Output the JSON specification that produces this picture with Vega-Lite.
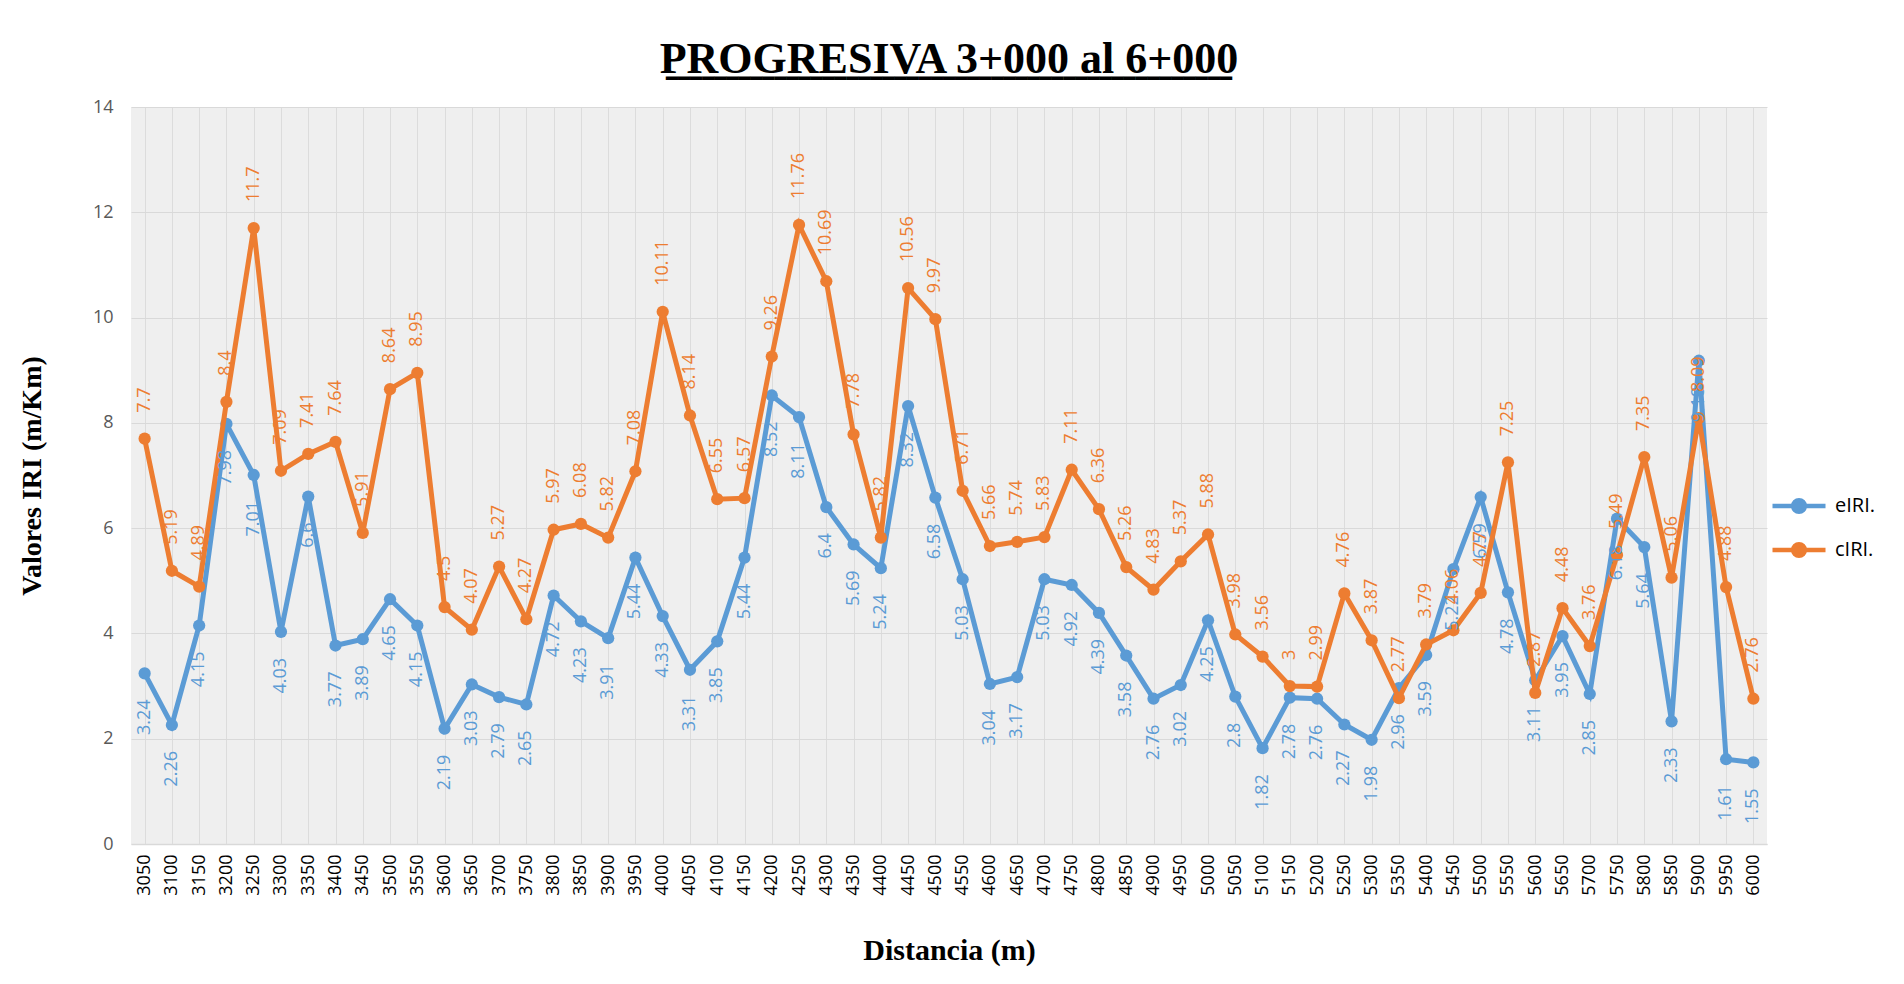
{
  "$schema": "https://vega.github.io/schema/vega-lite/v6.json",
  "width": 1636,
  "height": 737,
  "autosize": {"type": "none"},
  "padding": {"left": 131, "top": 107, "right": 137, "bottom": 140},
  "background": "white",
  "title": {
    "text": "PROGRESIVA 3+000 al 6+000",
    "subtitle": "━━━━━━━━━━━━━━━━━━━━━━━━━━━━━━━━━━━━━━━━━━━━━━━",
    "font": "Liberation Serif",
    "fontSize": 44,
    "fontWeight": "bold",
    "color": "black",
    "subtitleFont": "DejaVu Sans",
    "subtitleFontSize": 20,
    "subtitleColor": "black",
    "subtitlePadding": -13,
    "anchor": "middle",
    "offset": 9
  },
  "config": {
    "view": {"fill": "#efefef", "stroke": null},
    "font": "Open Sans"
  },
  "data": {
    "values": [
      {"d": 3050, "s": "eIRI.", "v": 3.24}, {"d": 3100, "s": "eIRI.", "v": 2.26}, {"d": 3150, "s": "eIRI.", "v": 4.15}, {"d": 3200, "s": "eIRI.", "v": 7.98}, {"d": 3250, "s": "eIRI.", "v": 7.01}, {"d": 3300, "s": "eIRI.", "v": 4.03}, {"d": 3350, "s": "eIRI.", "v": 6.6}, {"d": 3400, "s": "eIRI.", "v": 3.77}, {"d": 3450, "s": "eIRI.", "v": 3.89}, {"d": 3500, "s": "eIRI.", "v": 4.65},
      {"d": 3550, "s": "eIRI.", "v": 4.15}, {"d": 3600, "s": "eIRI.", "v": 2.19}, {"d": 3650, "s": "eIRI.", "v": 3.03}, {"d": 3700, "s": "eIRI.", "v": 2.79}, {"d": 3750, "s": "eIRI.", "v": 2.65}, {"d": 3800, "s": "eIRI.", "v": 4.72}, {"d": 3850, "s": "eIRI.", "v": 4.23}, {"d": 3900, "s": "eIRI.", "v": 3.91}, {"d": 3950, "s": "eIRI.", "v": 5.44}, {"d": 4000, "s": "eIRI.", "v": 4.33},
      {"d": 4050, "s": "eIRI.", "v": 3.31}, {"d": 4100, "s": "eIRI.", "v": 3.85}, {"d": 4150, "s": "eIRI.", "v": 5.44}, {"d": 4200, "s": "eIRI.", "v": 8.52}, {"d": 4250, "s": "eIRI.", "v": 8.11}, {"d": 4300, "s": "eIRI.", "v": 6.4}, {"d": 4350, "s": "eIRI.", "v": 5.69}, {"d": 4400, "s": "eIRI.", "v": 5.24}, {"d": 4450, "s": "eIRI.", "v": 8.32}, {"d": 4500, "s": "eIRI.", "v": 6.58},
      {"d": 4550, "s": "eIRI.", "v": 5.03}, {"d": 4600, "s": "eIRI.", "v": 3.04}, {"d": 4650, "s": "eIRI.", "v": 3.17}, {"d": 4700, "s": "eIRI.", "v": 5.03}, {"d": 4750, "s": "eIRI.", "v": 4.92}, {"d": 4800, "s": "eIRI.", "v": 4.39}, {"d": 4850, "s": "eIRI.", "v": 3.58}, {"d": 4900, "s": "eIRI.", "v": 2.76}, {"d": 4950, "s": "eIRI.", "v": 3.02}, {"d": 5000, "s": "eIRI.", "v": 4.25},
      {"d": 5050, "s": "eIRI.", "v": 2.8}, {"d": 5100, "s": "eIRI.", "v": 1.82}, {"d": 5150, "s": "eIRI.", "v": 2.78}, {"d": 5200, "s": "eIRI.", "v": 2.76}, {"d": 5250, "s": "eIRI.", "v": 2.27}, {"d": 5300, "s": "eIRI.", "v": 1.98}, {"d": 5350, "s": "eIRI.", "v": 2.96}, {"d": 5400, "s": "eIRI.", "v": 3.59}, {"d": 5450, "s": "eIRI.", "v": 5.22}, {"d": 5500, "s": "eIRI.", "v": 6.59},
      {"d": 5550, "s": "eIRI.", "v": 4.78}, {"d": 5600, "s": "eIRI.", "v": 3.11}, {"d": 5650, "s": "eIRI.", "v": 3.95}, {"d": 5700, "s": "eIRI.", "v": 2.85}, {"d": 5750, "s": "eIRI.", "v": 6.18}, {"d": 5800, "s": "eIRI.", "v": 5.64}, {"d": 5850, "s": "eIRI.", "v": 2.33}, {"d": 5900, "s": "eIRI.", "v": 9.18}, {"d": 5950, "s": "eIRI.", "v": 1.61}, {"d": 6000, "s": "eIRI.", "v": 1.55},
      {"d": 3050, "s": "cIRI.", "v": 7.7}, {"d": 3100, "s": "cIRI.", "v": 5.19}, {"d": 3150, "s": "cIRI.", "v": 4.89}, {"d": 3200, "s": "cIRI.", "v": 8.4}, {"d": 3250, "s": "cIRI.", "v": 11.7}, {"d": 3300, "s": "cIRI.", "v": 7.09}, {"d": 3350, "s": "cIRI.", "v": 7.41}, {"d": 3400, "s": "cIRI.", "v": 7.64}, {"d": 3450, "s": "cIRI.", "v": 5.91}, {"d": 3500, "s": "cIRI.", "v": 8.64},
      {"d": 3550, "s": "cIRI.", "v": 8.95}, {"d": 3600, "s": "cIRI.", "v": 4.5}, {"d": 3650, "s": "cIRI.", "v": 4.07}, {"d": 3700, "s": "cIRI.", "v": 5.27}, {"d": 3750, "s": "cIRI.", "v": 4.27}, {"d": 3800, "s": "cIRI.", "v": 5.97}, {"d": 3850, "s": "cIRI.", "v": 6.08}, {"d": 3900, "s": "cIRI.", "v": 5.82}, {"d": 3950, "s": "cIRI.", "v": 7.08}, {"d": 4000, "s": "cIRI.", "v": 10.11},
      {"d": 4050, "s": "cIRI.", "v": 8.14}, {"d": 4100, "s": "cIRI.", "v": 6.55}, {"d": 4150, "s": "cIRI.", "v": 6.57}, {"d": 4200, "s": "cIRI.", "v": 9.26}, {"d": 4250, "s": "cIRI.", "v": 11.76}, {"d": 4300, "s": "cIRI.", "v": 10.69}, {"d": 4350, "s": "cIRI.", "v": 7.78}, {"d": 4400, "s": "cIRI.", "v": 5.82}, {"d": 4450, "s": "cIRI.", "v": 10.56}, {"d": 4500, "s": "cIRI.", "v": 9.97},
      {"d": 4550, "s": "cIRI.", "v": 6.71}, {"d": 4600, "s": "cIRI.", "v": 5.66}, {"d": 4650, "s": "cIRI.", "v": 5.74}, {"d": 4700, "s": "cIRI.", "v": 5.83}, {"d": 4750, "s": "cIRI.", "v": 7.11}, {"d": 4800, "s": "cIRI.", "v": 6.36}, {"d": 4850, "s": "cIRI.", "v": 5.26}, {"d": 4900, "s": "cIRI.", "v": 4.83}, {"d": 4950, "s": "cIRI.", "v": 5.37}, {"d": 5000, "s": "cIRI.", "v": 5.88},
      {"d": 5050, "s": "cIRI.", "v": 3.98}, {"d": 5100, "s": "cIRI.", "v": 3.56}, {"d": 5150, "s": "cIRI.", "v": 3}, {"d": 5200, "s": "cIRI.", "v": 2.99}, {"d": 5250, "s": "cIRI.", "v": 4.76}, {"d": 5300, "s": "cIRI.", "v": 3.87}, {"d": 5350, "s": "cIRI.", "v": 2.77}, {"d": 5400, "s": "cIRI.", "v": 3.79}, {"d": 5450, "s": "cIRI.", "v": 4.06}, {"d": 5500, "s": "cIRI.", "v": 4.77},
      {"d": 5550, "s": "cIRI.", "v": 7.25}, {"d": 5600, "s": "cIRI.", "v": 2.87}, {"d": 5650, "s": "cIRI.", "v": 4.48}, {"d": 5700, "s": "cIRI.", "v": 3.76}, {"d": 5750, "s": "cIRI.", "v": 5.49}, {"d": 5800, "s": "cIRI.", "v": 7.35}, {"d": 5850, "s": "cIRI.", "v": 5.06}, {"d": 5900, "s": "cIRI.", "v": 8.09}, {"d": 5950, "s": "cIRI.", "v": 4.88}, {"d": 6000, "s": "cIRI.", "v": 2.76}
    ]
  },
  "encoding": {
    "x": {
      "field": "d",
      "type": "ordinal",
      "scale": {"type": "point", "padding": 0.5},
      "axis": {
        "title": "Distancia (m)",
        "titleFont": "Liberation Serif",
        "titleFontSize": 30,
        "titleFontWeight": "bold",
        "titleColor": "black",
        "titlePadding": 40,
        "labelAngle": -90,
        "labelFontSize": 18,
        "labelColor": "black",
        "labelPadding": 10,
        "ticks": false,
        "domain": true,
        "domainColor": "#d9d9d9",
        "domainWidth": 1.5,
        "grid": true,
        "gridColor": "#dcdcdc",
        "gridWidth": 1
      }
    },
    "y": {
      "field": "v",
      "type": "quantitative",
      "scale": {"domain": [0, 14], "nice": false},
      "axis": {
        "title": "Valores IRI (m/Km)",
        "titleFont": "Liberation Serif",
        "titleFontSize": 28,
        "titleFontWeight": "bold",
        "titleColor": "black",
        "titlePadding": 46,
        "values": [0, 2, 4, 6, 8, 10, 12, 14],
        "labelFontSize": 18,
        "labelColor": "#595959",
        "labelPadding": 18,
        "ticks": false,
        "domain": false,
        "grid": true,
        "gridColor": "#d9d9d9",
        "gridWidth": 1.2
      }
    }
  },
  "layer": [
    {
      "transform": [{"filter": "datum.s === 'eIRI.'"}],
      "mark": {"type": "line", "strokeWidth": 5, "point": {"filled": true, "size": 150}},
      "encoding": {
        "color": {
          "field": "s",
          "type": "nominal",
          "scale": {"domain": ["eIRI.", "cIRI."], "range": ["#5B9BD5", "#ED7D31"]},
          "legend": {
            "title": null,
            "orient": "none",
            "legendX": 1639,
            "legendY": 370,
            "labelFontSize": 20,
            "labelColor": "black",
            "symbolType": "M-1,0L1,0M0.22,0A0.22,0.22,0,1,1,-0.22,0A0.22,0.22,0,1,1,0.22,0Z",
            "symbolSize": 2809,
            "symbolStrokeWidth": 4.5,
            "rowPadding": -6,
            "labelOffset": 7,
            "encode": {
              "symbols": {
                "update": {
                  "stroke": {"scale": "color", "field": "value"},
                  "fill": {"scale": "color", "field": "value"},
                  "strokeWidth": {"value": 4.5},
                  "opacity": {"value": 1}
                }
              }
            }
          }
        }
      }
    },
    {
      "transform": [{"filter": "datum.s === 'cIRI.'"}],
      "mark": {"type": "line", "strokeWidth": 5, "point": {"filled": true, "size": 150}},
      "encoding": {
        "color": {"field": "s", "type": "nominal"}
      }
    },
    {
      "transform": [{"filter": "datum.s === 'eIRI.'"}],
      "mark": {"type": "text", "angle": 270, "align": "right", "baseline": "middle", "dx": -26, "fontSize": 18, "color": "#5B9BD5"},
      "encoding": {"text": {"field": "v", "type": "quantitative", "format": "~g"}}
    },
    {
      "transform": [{"filter": "datum.s === 'cIRI.'"}],
      "mark": {"type": "text", "angle": 270, "align": "left", "baseline": "middle", "dx": 26, "fontSize": 18, "color": "#ED7D31"},
      "encoding": {"text": {"field": "v", "type": "quantitative", "format": "~g"}}
    }
  ]
}
